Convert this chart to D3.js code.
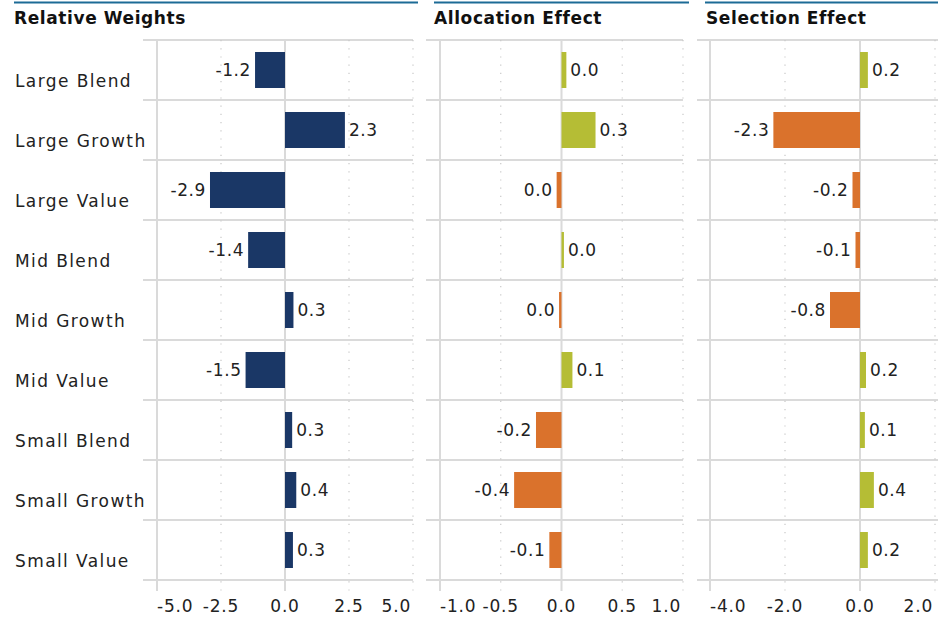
<!DOCTYPE html>
<html><head><meta charset="utf-8">
<script src="https://cdn.jsdelivr.net/npm/d3@7"></script>
<style>
body{margin:0;background:#fff;}
text{font-family:"DejaVu Sans",sans-serif;}
</style></head>
<body><svg id="c" width="938" height="618"></svg>
<script>
const categories = ["Large Blend","Large Growth","Large Value","Mid Blend","Mid Growth","Mid Value","Small Blend","Small Growth","Small Value"];
const relativeWeights = [-1.17, 2.34, -2.93, -1.44, 0.33, -1.54, 0.28, 0.44, 0.31];
const allocationEffect = [0.04, 0.28, -0.04, 0.02, -0.02, 0.09, -0.21, -0.39, -0.10];
const selectionEffect = [0.21, -2.31, -0.2, -0.12, -0.8, 0.16, 0.13, 0.37, 0.21];
const panelTitles = ["Relative Weights","Allocation Effect","Selection Effect"];
const tickValues1 = [-5, -2.5, 0, 2.5, 5];
const tickValues2 = [-1, -0.5, 0, 0.5, 1];
const tickValues3 = [-4, -2, 0, 2];

const fmt = v => d3.format(".1f")(v).replace("\u2212", "-");
const svg = d3.select("#c");
const NAVY = "#1a3766", OLIVE = "#b5bd35", ORANGE = "#da722c", GRID = "#dadada", TOPLINE = "#1c6b96";
const y = d3.scaleBand().domain(categories).range([40, 580]).paddingInner(0.4).paddingOuter(0.2);

const panels = [
  {title: panelTitles[0], values: relativeWeights, ticks: tickValues1, domain: [-5, 5], range: [157, 413], gridLeft: 143, titleX: 14, lineX: [14, 418], colorFn: () => NAVY},
  {title: panelTitles[1], values: allocationEffect, ticks: tickValues2, domain: [-1, 1], range: [440, 683], gridLeft: 426, titleX: 434, lineX: [434, 689], colorFn: v => v >= 0 ? OLIVE : ORANGE},
  {title: panelTitles[2], values: selectionEffect, ticks: tickValues3, domain: [-4, 2], range: [710, 935], gridLeft: 697, titleX: 706, lineX: [705, 938], colorFn: v => v >= 0 ? OLIVE : ORANGE, gridRight: 938}
];

// category labels
svg.append("g").selectAll("text").data(categories).join("text")
  .attr("x", 15).attr("y", d => y(d) + y.bandwidth() / 2 + 17)
  .attr("font-size", 17).attr("letter-spacing", 1.4).attr("fill", "#222").text(d => d);

panels.forEach(p => {
  const g = svg.append("g");
  const x = d3.scaleLinear().domain(p.domain).range(p.range);
  // top line and title
  g.append("line").attr("x1", p.lineX[0]).attr("x2", p.lineX[1]).attr("y1", 2.5).attr("y2", 2.5)
    .attr("stroke", TOPLINE).attr("stroke-width", 2);
  g.append("text").attr("x", p.titleX).attr("y", 24).attr("font-size", 17).attr("font-weight", "bold")
    .attr("letter-spacing", 0.6).attr("fill", "#111").text(p.title);
  // horizontal row lines
  const rowEdges = d3.range(categories.length + 1).map(i => 40 + i * 60);
  g.append("g").selectAll("line").data(rowEdges).join("line")
    .attr("x1", p.gridLeft).attr("x2", p.gridRight || p.range[1])
    .attr("y1", d => d).attr("y2", d => d)
    .attr("stroke", GRID).attr("stroke-width", 2);
  // vertical grid + ticks
  const solid = d => d === 0 || d === p.domain[0];
  g.append("g").selectAll("line").data(p.ticks).join("line")
    .attr("x1", d => x(d)).attr("x2", d => x(d)).attr("y1", 40).attr("y2", 591)
    .attr("stroke", d => solid(d) ? GRID : "#c8c8c8")
    .attr("stroke-width", d => solid(d) ? 2 : 1.2)
    .attr("stroke-dasharray", d => solid(d) ? null : "1.2,7");
  // tick labels
  const last = p.ticks.length - 1;
  g.append("g").selectAll("text").data(p.ticks).join("text")
    .attr("x", (d, i) => x(d) + (i === last ? -2 : 0)).attr("y", 612)
    .attr("text-anchor", (d, i) => i === 0 ? "start" : (i === last ? "end" : "middle"))
    .attr("font-size", 17).attr("letter-spacing", 0.8).attr("fill", "#222").text(d => fmt(d));
  // bars
  g.append("g").selectAll("rect").data(p.values).join("rect")
    .attr("x", d => Math.min(x(0), x(d))).attr("width", d => Math.abs(x(d) - x(0)))
    .attr("y", (d, i) => y(categories[i])).attr("height", y.bandwidth())
    .attr("fill", d => p.colorFn(d));
  // value labels
  g.append("g").selectAll("text").data(p.values).join("text")
    .attr("x", d => d >= 0 ? x(d) + 4 : x(d) - 4)
    .attr("y", (d, i) => y(categories[i]) + y.bandwidth() / 2 + 6)
    .attr("text-anchor", d => d >= 0 ? "start" : "end")
    .attr("font-size", 17).attr("letter-spacing", 0.6).attr("fill", "#222")
    .text(d => fmt(d));
});
</script></body></html>
